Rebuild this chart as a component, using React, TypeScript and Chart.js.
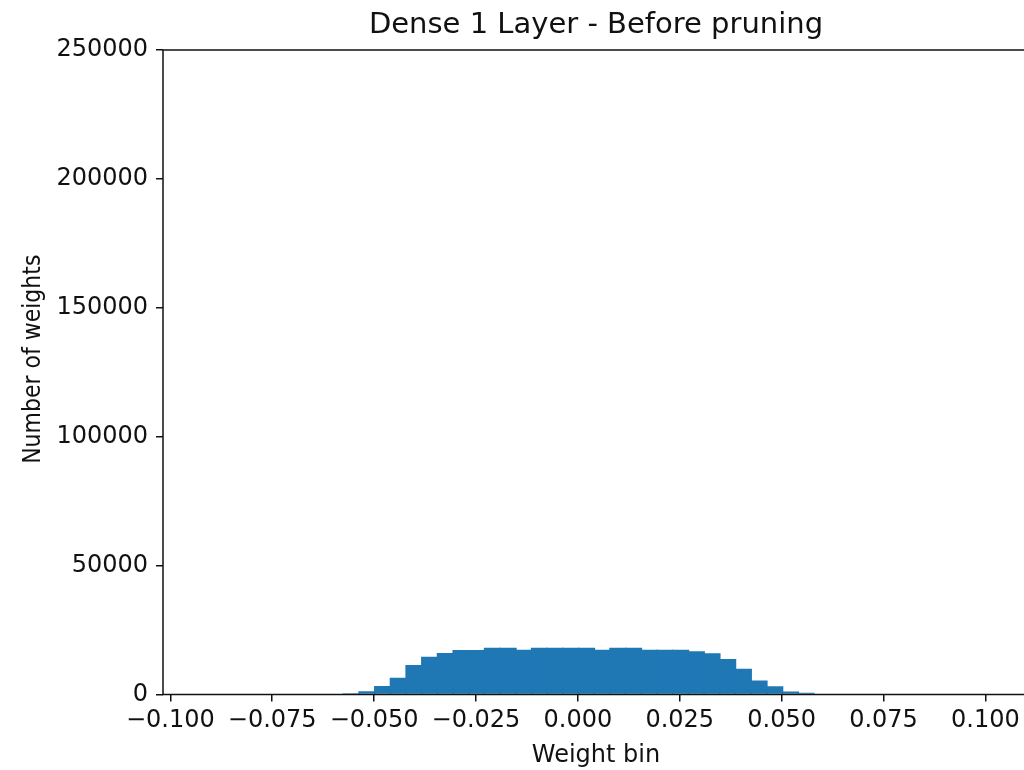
import React, { useEffect, useRef } from "react";
import { Chart, registerables } from "chart.js";

Chart.register(...registerables);

// Histogram bin centres (weight value) and counts
const binCenters = [
  -0.0556, -0.05175, -0.0479, -0.04406, -0.04021, -0.03636, -0.03251, -0.02866,
  -0.02482, -0.02097, -0.01712, -0.01327, -0.00942, -0.00558, -0.00173, 0.00212,
  0.00597, 0.00982, 0.01366, 0.01751, 0.02136, 0.02521, 0.02906, 0.0329,
  0.03675, 0.0406, 0.04445, 0.0483, 0.05214, 0.05599,
];
const binCounts = [
  500, 1300, 3300, 6500, 11400, 14600, 16100, 17300,
  17300, 18100, 18100, 17400, 18100, 18100, 18100, 18100,
  17400, 18100, 18100, 17400, 17400, 17400, 16800, 16000,
  13800, 10000, 5400, 3200, 1200, 700,
];

const xTickValues = [-0.1, -0.075, -0.05, -0.025, 0, 0.025, 0.05, 0.075, 0.1];
const yTickValues = [0, 50000, 100000, 150000, 200000, 250000];
const xMin = -0.1018;
const xMax = 0.1107;
const yMax = 250000;

const titleText = "Dense 1 Layer - Before pruning";
const xLabel = "Weight bin";
const yLabel = "Number of weights";

const FONT = "'DejaVu Sans', sans-serif";
const INK = "#111111";

const framePlugin = {
  id: "frame",
  afterDatasetsDraw(chart: any) {
    const { ctx, chartArea } = chart;
    ctx.save();
    ctx.strokeStyle = INK;
    ctx.lineWidth = 1.5;
    ctx.strokeRect(chartArea.left, chartArea.top, chartArea.right - chartArea.left, chartArea.bottom - chartArea.top);
    ctx.restore();
  },
};

// y-axis title, drawn rotated near the left edge as in the reference
const yTitlePlugin = {
  id: "yTitle",
  afterDraw(chart: any) {
    const { ctx, chartArea } = chart;
    const cy = (chartArea.top + chartArea.bottom) / 2 - 13;
    ctx.save();
    ctx.translate(40, cy);
    ctx.rotate(-Math.PI / 2);
    ctx.scale(1, 1.15);
    ctx.fillStyle = INK;
    ctx.font = `22px ${FONT}`;
    ctx.textAlign = "center";
    ctx.textBaseline = "alphabetic";
    ctx.fillText(yLabel, 0, 0);
    ctx.restore();
  },
};

export default function App() {
  const ref = useRef<HTMLCanvasElement | null>(null);

  useEffect(() => {
    if (!ref.current) return;
    const chart = new Chart(ref.current, {
      type: "bar",
      data: {
        datasets: [
          {
            data: binCenters.map((x, i) => ({ x, y: binCounts[i] })),
            backgroundColor: "#1f77b4",
            borderWidth: 0,
            barPercentage: 1.1,
            categoryPercentage: 1,
          },
        ],
      },
      plugins: [framePlugin, yTitlePlugin],
      options: {
        animation: false,
        responsive: false,
        layout: { padding: { left: 0, right: 31, top: 0, bottom: 0 } },
        plugins: {
          legend: { display: false },
          tooltip: { enabled: false },
          title: {
            display: true,
            text: titleText,
            fullSize: false,
            color: INK,
            font: { family: FONT, size: 29, weight: "normal", lineHeight: 1.2 },
            padding: { top: 8, bottom: 7.2 },
          },
        },
        scales: {
          x: {
            type: "linear",
            min: xMin,
            max: xMax,
            offset: false,
            afterBuildTicks: (scale: any) => {
              scale.ticks = xTickValues.map((v) => ({ value: v }));
            },
            afterFit: (scale: any) => {
              scale.height = 75.5;
            },
            ticks: {
              color: INK,
              font: { family: FONT, size: 24 },
              padding: 5,
              maxRotation: 0,
              autoSkip: false,
              callback: (v: any) => Number(v).toFixed(3).replace("-", "\u2212"),
            },
            grid: {
              display: true,
              offset: false,
              drawOnChartArea: false,
              drawTicks: true,
              tickLength: 7,
              color: INK,
              lineWidth: 1.5,
            },
            border: { display: false },
            title: {
              display: true,
              text: xLabel,
              color: INK,
              font: { family: FONT, size: 24, lineHeight: 1.2 },
              padding: { top: 0, bottom: 0 },
            },
          },
          y: {
            type: "linear",
            min: 0,
            max: yMax,
            afterBuildTicks: (scale: any) => {
              scale.ticks = yTickValues.map((v) => ({ value: v }));
            },
            afterFit: (scale: any) => {
              scale.width = 163;
            },
            ticks: {
              color: INK,
              font: { family: FONT, size: 24 },
              padding: 8,
              callback: (v: any) => String(v),
            },
            grid: {
              display: true,
              offset: false,
              drawOnChartArea: false,
              drawTicks: true,
              tickLength: 7,
              color: INK,
              lineWidth: 1.5,
            },
            border: { display: false },
            title: { display: false },
          },
        },
      },
    } as any);
    return () => chart.destroy();
  }, []);

  return (
    <div
      style={{
        position: "absolute",
        left: 0,
        top: 0,
        width: 1024,
        height: 770,
        overflow: "hidden",
        background: "#ffffff",
      }}
    >
      <canvas ref={ref} width={1060} height={770} style={{ position: "absolute", left: 0, top: 0 }} />
    </div>
  );
}
